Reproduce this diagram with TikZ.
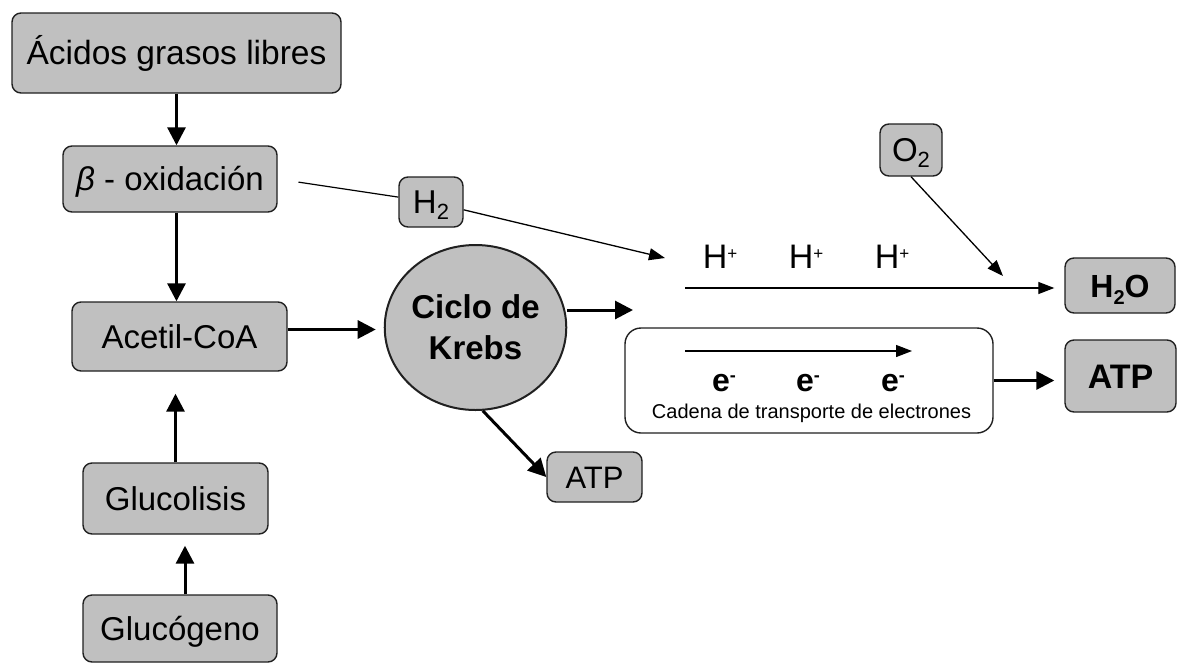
\documentclass[tikz,border=0pt]{standalone}
\usepackage{fontspec}
\setmainfont{Liberation Sans}
\usetikzlibrary{arrows.meta,shapes.geometric}
\definecolor{boxgray}{HTML}{C0C0C0}
\definecolor{edgegray}{HTML}{202020}
\newcommand\setfs[1]{\fontsize{#1}{#1}\selectfont}
\begin{document}
\begin{tikzpicture}[x=1pt,y=-1pt,
  gbox/.style={draw=edgegray, fill=boxgray, line width=1.4pt, rounded corners=9pt,
               inner sep=0pt, text height=23pt, text depth=0pt},
  thickarrow/.style={line width=3pt, -{Triangle[length=18pt,width=18pt]}},
  thinarrow/.style={line width=1.3pt, -{Triangle[length=16pt,width=12pt]}},
  thinline/.style={line width=1.2pt},
  lbl/.style={anchor=base, inner sep=0pt}]
\useasboundingbox (0,0) rectangle (1177,664);

% left column
\node[gbox, minimum width=329pt, minimum height=80pt] (acidos) at (176.5,53)
  {\setfs{33.5}Ácidos grasos libres};
\node[gbox, minimum width=214pt, minimum height=66pt] (beta) at (170,179)
  {\setfs{33}\textit{β} - oxidación};
\node[gbox, minimum width=215pt, minimum height=69pt] (acetil) at (179.5,336.5)
  {\setfs{33}Acetil-CoA};
\node[gbox, minimum width=185pt, minimum height=71pt] (glucolisis) at (175.5,498.5)
  {\setfs{33}Glucolisis};
\node[gbox, minimum width=194pt, minimum height=67pt] (glucogeno) at (180,628.5)
  {\setfs{33}Glucógeno};

% Krebs
\node[ellipse, draw=edgegray, fill=boxgray, line width=2pt, minimum width=175pt,
      minimum height=165pt, inner sep=0pt, align=center,
      font=\fontsize{33}{41}\selectfont\bfseries] (krebs) at (475.5,327.5)
  {Ciclo de\\Krebs};
\node[gbox, minimum width=95pt, minimum height=50pt] (atps) at (594.5,477)
  {\setfs{31}ATP};

% small boxes
\node[gbox, minimum width=64pt, minimum height=50pt] (h2) at (431,202)
  {\setfs{33}H\raisebox{-6pt}{\setfs{22}2}};
\node[gbox, minimum width=62pt, minimum height=52pt] (o2) at (911,150)
  {\setfs{33}O\raisebox{-6pt}{\setfs{22}2}};
\node[gbox, minimum width=110pt, minimum height=55pt] (h2o) at (1120,285.5)
  {\setfs{32}\bfseries H\raisebox{-7pt}{\setfs{20}2}O};
\node[gbox, minimum width=111pt, minimum height=72pt, text height=25pt] (atpb) at (1120.5,376)
  {\setfs{34}\bfseries ATP};

% electron transport chain
\node[draw=edgegray, fill=white, line width=1.4pt, rounded corners=16pt,
      minimum width=368pt, minimum height=105pt, inner sep=0pt] (cadena) at (809,380.5) {};

\node[lbl] (hp1) at (720,268) {\setfs{34}H\raisebox{9pt}{\setfs{17}+}};
\node[lbl] (hp2) at (806,268) {\setfs{34}H\raisebox{9pt}{\setfs{17}+}};
\node[lbl] (hp3) at (892,268) {\setfs{34}H\raisebox{9pt}{\setfs{17}+}};

\node[lbl] (e1) at (724,391) {\setfs{32}\bfseries e\raisebox{10pt}{\setfs{18}\bfseries -}};
\node[lbl] (e2) at (808,391) {\setfs{32}\bfseries e\raisebox{10pt}{\setfs{18}\bfseries -}};
\node[lbl] (e3) at (893,391) {\setfs{32}\bfseries e\raisebox{10pt}{\setfs{18}\bfseries -}};
\node[lbl] (cad) at (811.5,418) {\setfs{20}Cadena de transporte de electrones};

% free ends
\coordinate (kout) at (633,310);
\coordinate (hend) at (665,258);
\coordinate (o2end) at (1003,276);
\coordinate (hstart) at (685,288);
\coordinate (estart) at (685,351);
\coordinate (eend) at (912,351);
\coordinate (gx) at ([xshift=5pt]glucogeno.north);
\coordinate (ax) at ([yshift=7pt]acetil.east);

% connectors
\draw[thickarrow] (acidos.south) -- (acidos.south |- beta.north);
\draw[thickarrow] (beta.south -| acidos.south) -- (acetil.north -| acidos.south);
\draw[thickarrow, shorten >=22pt] (glucolisis.north) -- (acetil.south -| glucolisis.north);
\draw[thickarrow, shorten >=11pt] (gx) -- (gx |- glucolisis.south);
\draw[thickarrow, shorten >=8pt] (ax) -- (ax -| krebs.west);
\draw[thickarrow] (kout -| krebs.east) -- (kout);
\draw[thickarrow] (krebs.-85) -- (atps.west);
\draw[thinline, shorten <=21pt] (beta.east) -- (h2);
\draw[thinarrow] (h2) -- (hend);
\draw[thinarrow] (o2.south) -- (o2end);
\draw[thinarrow, shorten >=10pt] (hstart) -- (hstart -| h2o.west);
\draw[thinarrow] (estart) -- (eend);
\draw[thickarrow, shorten >=10pt] (cadena.east) -- (cadena.east -| atpb.west);
\end{tikzpicture}
\end{document}
